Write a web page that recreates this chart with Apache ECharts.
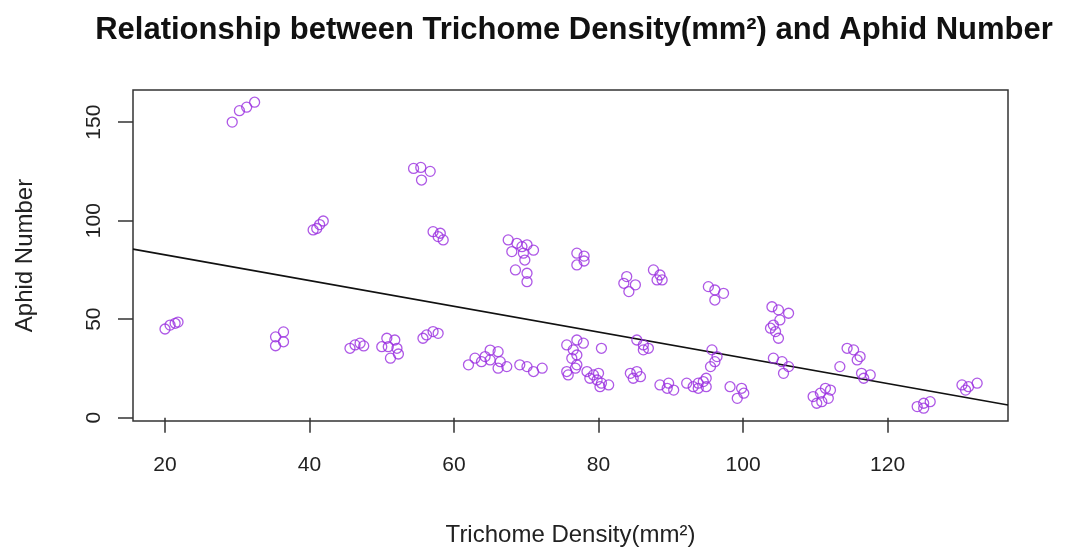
<!DOCTYPE html>
<html>
<head>
<meta charset="utf-8">
<script src="https://cdn.jsdelivr.net/npm/echarts@6/dist/echarts.min.js"></script>
<style>
  html, body { margin: 0; padding: 0; background: #fff; }
  #chart { width: 1076px; height: 552px; }
</style>
</head>
<body>
<div id="chart"></div>
<script>
// trichome density (x) and aphid number (y)
const density = [
  29.3, 30.3, 31.3, 32.4,
  20.0, 20.7, 21.4, 21.8,
  35.3, 36.4, 35.3, 36.4,
  40.5, 41.0, 41.4, 41.9,
  45.6, 46.3, 47.0, 47.5,
  50.7, 51.8, 50.0, 50.9, 52.1, 51.2, 52.3,
  54.4, 55.4, 56.7, 55.5,
  55.7, 56.2, 57.1, 57.8,
  57.1, 58.1, 58.5, 57.8,
  62.0, 62.9, 63.8, 65.0, 65.0, 66.1, 66.4, 67.3, 66.1, 64.3,
  69.1, 70.1, 71.0, 72.2,
  67.5, 68.7, 69.4, 70.1, 71.0, 68.0, 69.6,
  68.5, 70.1, 70.1, 69.8,
  77.0, 78.0, 77.0, 78.0,
  75.6, 77.0, 77.9, 76.5, 77.0, 76.3, 77.0, 75.6, 76.8, 75.8,
  80.4,
  78.4, 79.3, 80.0, 78.8, 79.8, 80.4, 80.2, 81.4,
  83.9, 85.1, 84.2, 83.5,
  87.6, 88.5, 88.8, 88.1,
  85.3, 86.2, 86.9, 86.2,
  84.4, 85.3, 85.8, 84.8,
  88.5, 89.5, 90.4, 89.7,
  92.2, 93.1, 93.8, 94.5, 94.9, 93.8, 94.9,
  95.7, 96.4, 95.5, 96.1,
  95.2, 96.1, 96.1, 97.3,
  98.2, 99.8, 99.2, 100.1,
  104.0, 104.9, 106.3, 105.1, 103.8, 104.5, 104.9, 104.2,
  104.2, 105.4, 106.3, 105.6,
  109.7, 110.7, 111.4, 112.1, 110.9, 110.2, 111.8,
  113.4,
  114.4, 115.3, 116.2, 115.8, 116.4, 117.6, 116.7,
  124.1, 125.0, 125.9, 125.0,
  130.3, 131.2, 132.4, 130.8
];
const aphids = [
  150.0, 155.8, 157.6, 160.1,
  45.0, 47.0, 47.9, 48.5,
  36.5, 38.5, 41.0, 43.5,
  95.3, 96.0, 98.0, 99.8,
  35.2, 36.9, 37.8, 36.4,
  40.3, 39.4, 36.0, 36.0, 35.2, 30.2, 32.3,
  126.5, 127.0, 125.0, 120.6,
  40.3, 42.0, 43.7, 42.8,
  94.4, 93.6, 90.2, 91.9,
  26.8, 30.2, 28.4, 34.3, 29.3, 33.5, 28.4, 25.9, 25.1, 31.0,
  26.8, 25.9, 23.4, 25.1,
  90.2, 88.5, 86.8, 87.7, 85.0, 84.3, 83.5,
  75.0, 73.3, 69.0, 80.0,
  83.5, 82.0, 77.5, 79.5,
  36.9, 39.4, 37.8, 34.4, 31.8, 30.1, 26.8, 23.4, 25.1, 21.7,
  35.2,
  23.4, 21.7, 22.5, 20.0, 19.1, 17.5, 15.7, 16.6,
  71.6, 67.4, 64.0, 68.2,
  75.0, 72.4, 69.9, 69.9,
  39.4, 36.9, 35.2, 34.4,
  22.5, 23.4, 20.8, 20.0,
  16.6, 14.9, 14.0, 17.5,
  17.5, 15.7, 17.5, 18.3, 20.0, 14.9, 15.7,
  34.4, 31.0, 25.9, 28.4,
  66.5, 64.8, 59.7, 63.1,
  15.7, 14.9, 9.8, 12.4,
  56.3, 54.7, 53.0, 49.6, 45.4, 43.7, 40.3, 47.0,
  30.2, 28.4, 25.9, 22.5,
  10.7, 12.4, 14.9, 14.0, 8.1, 7.3, 9.8,
  25.9,
  35.2, 34.4, 31.0, 29.3, 22.5, 21.7, 20.0,
  5.6, 7.3, 8.1, 4.8,
  16.6, 15.7, 17.5, 14.0
];

const xTicks = [20, 40, 60, 80, 100, 120];
const yTicks = [0, 50, 100, 150];
const xRange = [15.57, 136.67];
const yRange = [-1.7, 166.3];

// fitted line
const fitIntercept = 95.7;
const fitSlope = -0.653;

const points = density.map((d, i) => [d, aphids[i]]);
const fitLine = xRange.map(x => [x, fitIntercept + fitSlope * x]);

const chart = echarts.init(document.getElementById('chart'));

const font = 'Liberation Sans, Arial, sans-serif';

const option = {
  backgroundColor: '#fff',
  animation: false,
  title: {
    text: 'Relationship between Trichome Density(mm²) and Aphid Number',
    left: 569,
    textAlign: 'center',
    top: 10,
    textStyle: { fontFamily: font, fontWeight: 'bold', fontSize: 31, color: '#111' }
  },
  grid: {
    left: 133, right: 68, top: 90, bottom: 131,
    show: true, borderColor: '#333', borderWidth: 1.5, backgroundColor: 'transparent'
  },
  xAxis: {
    type: 'value',
    min: xRange[0], max: xRange[1],
    name: 'Trichome Density(mm²)',
    nameLocation: 'middle',
    nameGap: 102,
    nameTextStyle: { fontFamily: font, fontSize: 24, color: '#222' },
    axisLine: { show: false },
    axisTick: { show: true, inside: false, length: 15, customValues: xTicks, lineStyle: { color: '#333', width: 1.5 } },
    axisLabel: { customValues: xTicks, margin: 34, fontFamily: font, fontSize: 21, color: '#222' },
    splitLine: { show: false }
  },
  yAxis: {
    type: 'value',
    min: yRange[0], max: yRange[1],
    name: 'Aphid Number',
    nameLocation: 'middle',
    nameGap: 96,
    nameTextStyle: { fontFamily: font, fontSize: 24, color: '#222' },
    axisLine: { show: false },
    axisTick: { show: true, inside: false, length: 15, customValues: yTicks, lineStyle: { color: '#333', width: 1.5 } },
    axisLabel: { customValues: yTicks, rotate: 90, margin: 28, fontFamily: font, fontSize: 21, color: '#222' },
    splitLine: { show: false }
  },
  series: [
    {
      name: 'fit',
      type: 'line',
      data: fitLine,
      symbol: 'none',
      lineStyle: { color: '#111', width: 1.6 },
      z: 1
    },
    {
      name: 'aphids',
      type: 'scatter',
      data: points,
      symbol: 'circle',
      symbolSize: 10,
      itemStyle: { color: 'rgba(255,255,255,0)', borderColor: '#9a2ee0', borderWidth: 1.3 },
      z: 2
    }
  ]
};

chart.setOption(option);
</script>
</body>
</html>
